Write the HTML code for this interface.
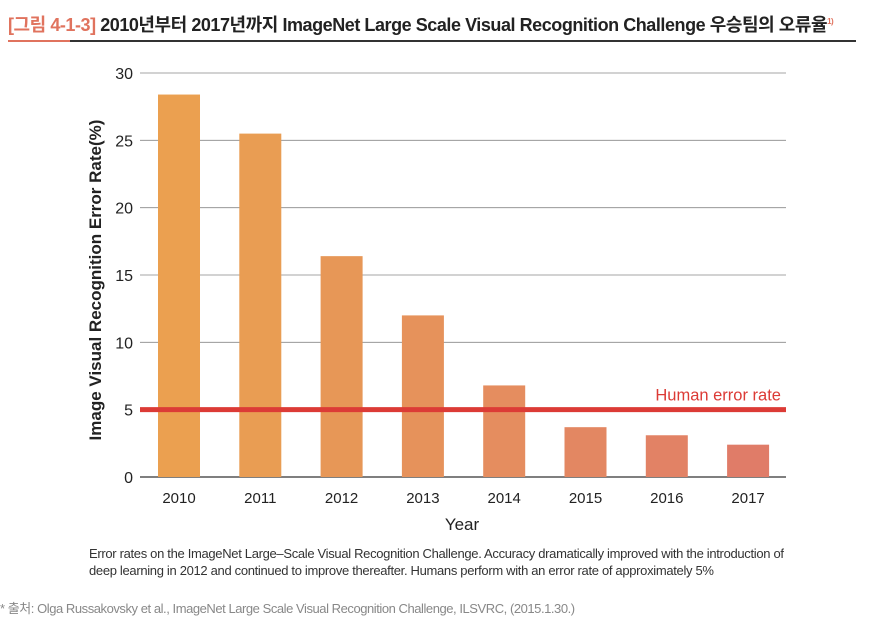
<!DOCTYPE html>
<html><head><meta charset="utf-8">
<style>
body{margin:0;width:880px;height:628px;background:#fff;overflow:hidden;position:relative;font-family:"Liberation Sans","Noto Sans CJK KR",sans-serif}
.t{position:absolute;white-space:nowrap}
</style></head><body>
<div class="t" style="left:8px;top:11px;font-size:18px;font-weight:bold;letter-spacing:-0.45px;color:#222"><span style="color:#e0735e">[그림 4-1-3]</span> 2010년부터 2017년까지 ImageNet Large Scale Visual Recognition Challenge 우승팀의 오류율<sup style="font-size:8px;color:#e0735e">1)</sup></div>
<div style="position:absolute;left:8px;top:40px;width:62px;height:2px;background:#e0735e"></div>
<div style="position:absolute;left:70px;top:40px;width:786px;height:2px;background:#333"></div>
<svg id="chart" width="880" height="540" style="position:absolute;left:0;top:0"></svg>
<div class="t" style="left:89px;top:545px;font-size:13px;color:#333;line-height:17px;letter-spacing:-0.32px">Error rates on the ImageNet Large–Scale Visual Recognition Challenge. Accuracy dramatically improved with the introduction of<br>deep learning in 2012 and continued to improve thereafter. Humans perform with an error rate of approximately 5%</div>
<div class="t" style="left:0px;top:598px;font-size:13px;color:#888;letter-spacing:-0.45px">* 출처: Olga Russakovsky et al., ImageNet Large Scale Visual Recognition Challenge, ILSVRC, (2015.1.30.)</div>
<script>
const years=["2010","2011","2012","2013","2014","2015","2016","2017"];
const errorRates=[28.4,25.5,16.4,12.0,6.8,3.7,3.1,2.4];
const yTicks=[0,5,10,15,20,25,30];
const humanRate=5;
const barColors=["#eba050","#e99d53","#e79757","#e6925b","#e58d5f","#e38762","#e28265","#e07c68"];
const NS="http://www.w3.org/2000/svg";
const svg=document.getElementById('chart');
const x0=140,x1=786,y0=477,yTop=73;
const y=v=>y0-(v/30)*(y0-yTop);
const step=81.3;
const xc=i=>x0+39+step*i;
function mk(t,a){const e=document.createElementNS(NS,t);for(const k in a)e.setAttribute(k,a[k]);svg.appendChild(e);return e;}
yTicks.forEach(v=>{
  const l=mk('line',{x1:x0,x2:x1,y1:y(v),y2:y(v),stroke:v===0?'#333':'#888','stroke-width':v===0?1.2:0.8});
  
  
  const t=mk('text',{x:133,y:y(v)+6,'text-anchor':'end','font-size':16,fill:'#222','font-family':'Liberation Sans, sans-serif'});
  t.textContent=v;
  
  
});
years.forEach((yr,i)=>{
  const r=mk('rect',{x:xc(i)-21,y:y(errorRates[i]),width:42,height:y0-y(errorRates[i]),fill:barColors[i]});
  
  
  const t=mk('text',{x:xc(i),y:503,'text-anchor':'middle','font-size':15,fill:'#222','font-family':'Liberation Sans, sans-serif'});
  t.textContent=yr;
  
  
});
const h=mk('line',{x1:x0,x2:x1,y1:y(humanRate),y2:y(humanRate),stroke:'#dc3b36','stroke-width':5});


const ht=mk('text',{x:781,y:y(humanRate)-9,'text-anchor':'end','font-size':16.5,fill:'#dc3b36','font-family':'Liberation Sans, sans-serif'});
ht.textContent='Human error rate';


const xt=mk('text',{x:462,y:530,'text-anchor':'middle','font-size':17,fill:'#222','font-family':'Liberation Sans, sans-serif'});
xt.textContent='Year';


const yt=mk('text',{x:0,y:0,'text-anchor':'middle','font-size':17,'font-weight':'bold',fill:'#222','font-family':'Liberation Sans, sans-serif',transform:'translate(101,280) rotate(-90)'});
yt.textContent='Image Visual Recognition Error Rate(%)';


</script>
</body></html>
